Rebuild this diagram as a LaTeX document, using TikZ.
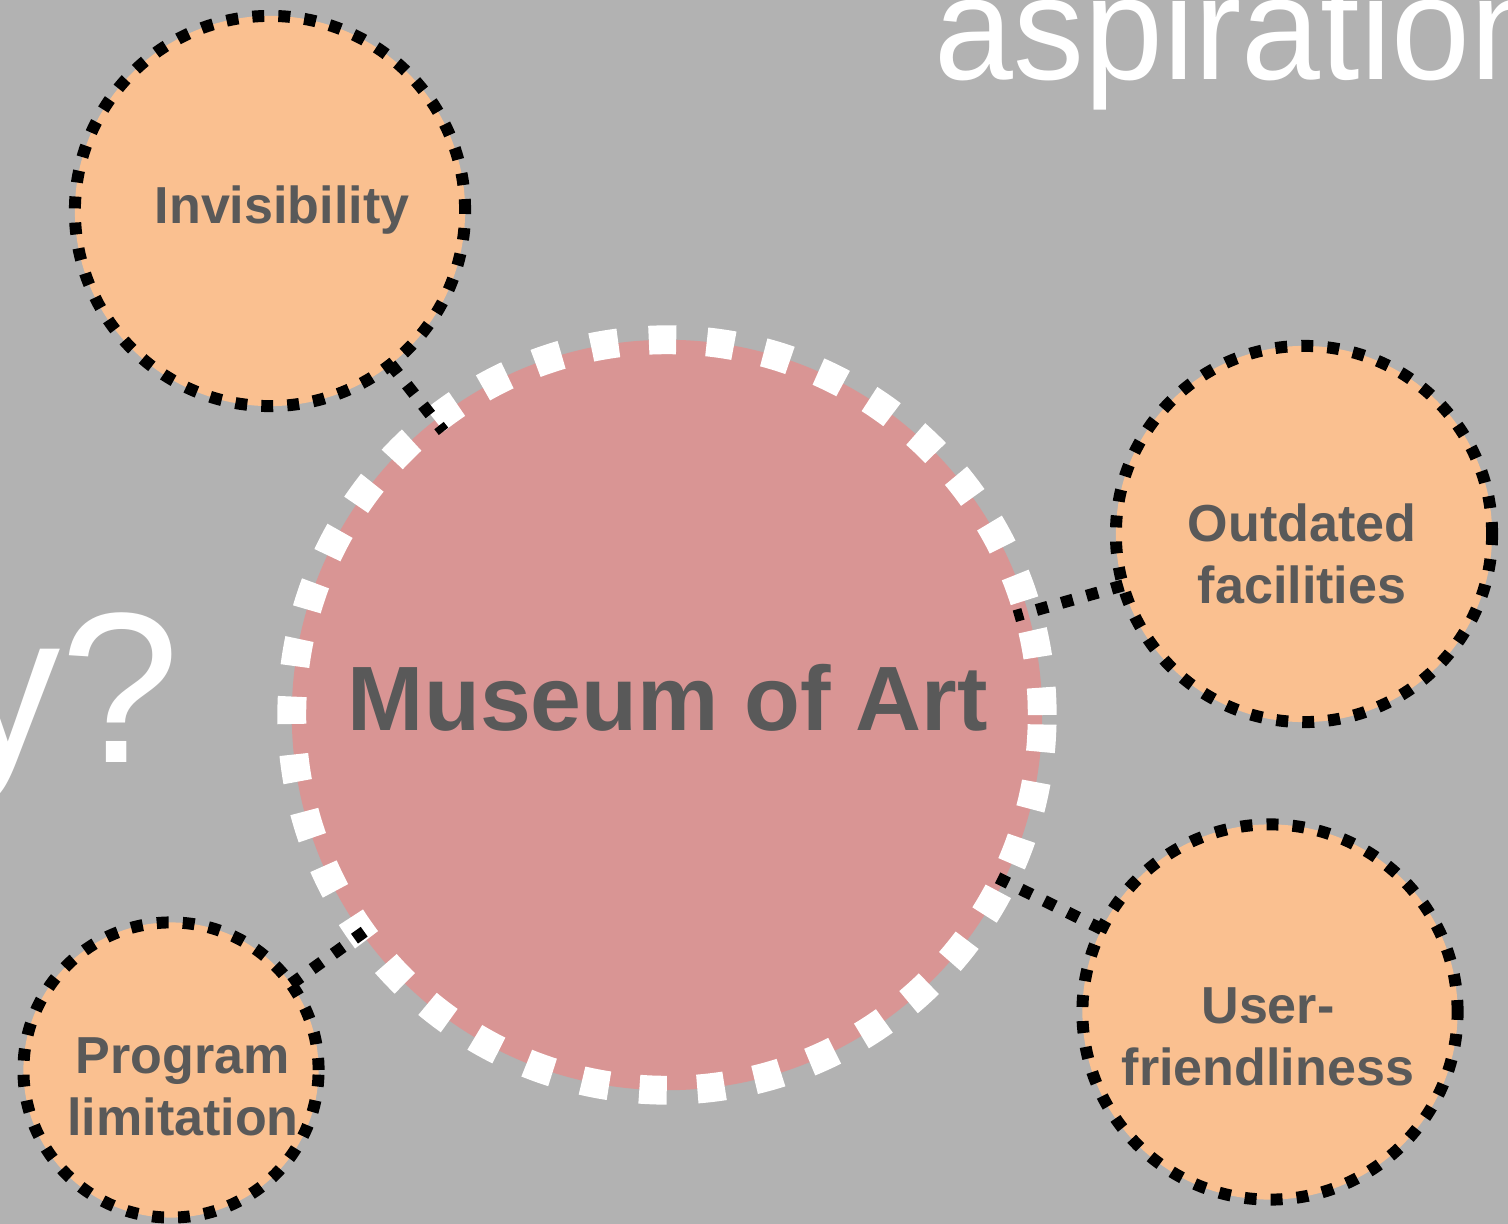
\documentclass[tikz,border=0pt]{standalone}
\usepackage{fontspec}
\setmainfont{Liberation Sans}
\definecolor{slidegray}{HTML}{B2B2B2}
\definecolor{museumpink}{HTML}{D99594}
\definecolor{issueorange}{HTML}{FAC090}
\definecolor{labelgray}{HTML}{595959}

\begin{document}
\begin{tikzpicture}[x=0.01cm,y=-0.01cm,
	hub/.style={circle,fill=museumpink,draw=white,line width=8.2pt,dash pattern=on 7.8pt off 8.7pt,minimum size=7.5cm,inner sep=0pt,outer sep=0pt},
	issue/.style={circle,fill=issueorange,draw=black,line width=3.4pt,dash pattern=on 3.4pt off 4pt,inner sep=0pt,outer sep=0pt},
	issuetext/.style={text=labelgray,font=\fontsize{14.8}{17.6}\selectfont\bfseries,align=center,inner sep=0pt},
	link/.style={draw=black,line width=3.4pt,dash pattern=on 3.4pt off 4pt,shorten >=-4pt}]
	\useasboundingbox (0,0) rectangle (1508,1224) ;
	\clip (0,0) rectangle (1508,1224) ;
	\fill [slidegray] (0,0) rectangle (1508,1224) ;
	% slide text behind the diagram
	\node [text=white,anchor=base west,inner sep=0pt,font=\fontsize{42}{48}\selectfont] (aspiration) at (934,80) {\scalebox{0.96}[1]{aspiration}} ;
	\node [text=white,anchor=base east,inner sep=0pt,font=\fontsize{61}{70}\selectfont] (question) at (181,762) {y?} ;
	% hub and issues
	\node [hub] (main) at (667,715) {} ;
	\node [issue,minimum size=3.9cm] (inv) at (270,211) {} ;
	\node [issue,minimum size=3.76cm] (outdated) at (1304,534) {} ;
	\node [issue,minimum size=3.75cm] (user) at (1270,1012) {} ;
	\node [issue,minimum size=2.95cm] (program) at (171,1070) {} ;
	\draw [link] (inv) -- (main) ;
	\draw [link] (outdated) -- (main) ;
	\draw [link] (user) -- (main) ;
	\draw [link] (program) -- (main) ;
	% labels
	\node [text=labelgray,inner sep=0pt,font=\fontsize{26}{30}\selectfont\bfseries] (maintext) at (668,698) {Museum of Art} ;
	\node [issuetext] (invtext) at (282,210) {Invisibility} ;
	\node [issuetext] (outdatedtext) at (1302,554) {Outdated\\facilities} ;
	\node [issuetext] (usertext) at (1268,1037) {User-\\friendliness} ;
	\node [issuetext] (programtext) at (183,1087) {Program\\limitation} ;
\end{tikzpicture}
\end{document}
